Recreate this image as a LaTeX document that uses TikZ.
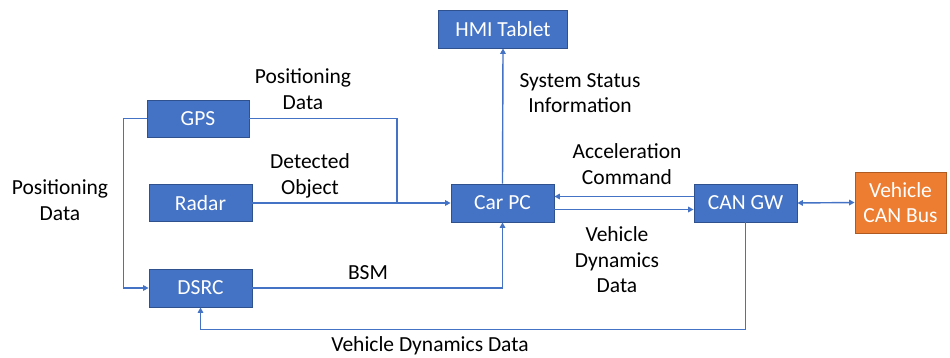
\documentclass[tikz,border=0pt]{standalone}
\usepackage{fontspec}
\setmainfont{Carlito}
\usetikzlibrary{arrows.meta}
\definecolor{boxblue}{HTML}{4472C4}
\definecolor{boxblueline}{HTML}{2F528F}
\definecolor{boxorange}{HTML}{ED7D31}
\definecolor{boxorangeline}{HTML}{AE5A21}
\tikzset{
  blk/.style={draw=boxblueline, fill=boxblue, line width=0.8pt, text=white, align=center,
    inner sep=0pt, font=\fontsize{21.5}{25}\selectfont},
  orblk/.style={draw=boxorangeline, fill=boxorange, line width=0.8pt, text=white, align=center,
    inner sep=0pt, font=\fontsize{21.5}{25}\selectfont},
  conn/.style={draw=boxblue, line width=1.4pt},
  arr/.style={conn, -{Triangle[length=5.5pt,width=5.5pt]}},
  darr/.style={conn, {Triangle[length=5.5pt,width=5.5pt]}-{Triangle[length=5.5pt,width=5.5pt]}},
  lbl/.style={align=center, font=\fontsize{21.5}{25.5}\selectfont, inner sep=0pt}
}
\begin{document}
\begin{tikzpicture}[x=1pt,y=-1pt]
\useasboundingbox (0,0) rectangle (950,358);
\node[blk, minimum width=129pt, minimum height=38pt] (hmi) at (503,29) {HMI Tablet};
\node[blk, minimum width=102pt, minimum height=37pt] (gps) at (198,118.5) {GPS};
\node[blk, minimum width=103pt, minimum height=37pt] (radar) at (200.5,203) {Radar};
\node[blk, minimum width=103pt, minimum height=38pt] (dsrc) at (200.5,288) {DSRC};
\node[blk, minimum width=103pt, minimum height=38pt] (carpc) at (502.5,203) {Car PC};
\node[blk, minimum width=103pt, minimum height=38pt] (cangw) at (745.5,203) {CAN GW};
\node[orblk, minimum width=91pt, minimum height=61pt] (canbus) at (900.5,202.5) {Vehicle\\CAN Bus};

\coordinate (jn) at (397,203);
\draw[conn] (gps.east) -| (jn);
\draw[arr] (radar.east) -- (carpc.west);
\draw[arr] (gps.west) -- ++(-23,0) |- (dsrc.west);
\draw[arr] (dsrc.east) -| (carpc.south);
\draw[arr] (carpc.north) -- (hmi.south);
\draw[arr] ([yshift=6.5pt]cangw.west) -- ([yshift=6.5pt]carpc.east);
\draw[arr] ([yshift=-6.5pt]carpc.east) -- ([yshift=-6.5pt]cangw.west);
\draw[darr] (cangw.east) -- (canbus.west);
\draw[arr] (cangw.south) -- ++(0,107) -| (dsrc.south);

\node[lbl] (l1) at (303,89) {Positioning\\Data};
\node[lbl] (l2) at (310,176) {Detected\\Object};
\node[lbl] (l3) at (60,200) {Positioning\\Data};
\node[lbl] (l4) at (368,273) {BSM};
\node[lbl] (l5) at (580,93) {System Status\\Information};
\node[lbl] (l6) at (627,164) {Acceleration\\Command};
\node[lbl] (l7) at (617,260) {Vehicle\\Dynamics\\Data};
\node[lbl] (l8) at (430,346) {Vehicle Dynamics Data};
\end{tikzpicture}
\end{document}
